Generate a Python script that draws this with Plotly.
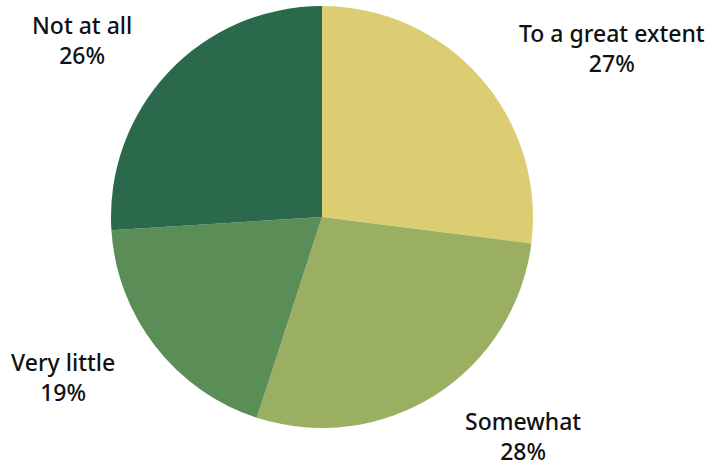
import plotly.graph_objects as go

# Survey responses
categories = ["To a great extent", "Somewhat", "Very little", "Not at all"]
shares = [27, 28, 19, 26]
colors = ["#DCCD73", "#9BAF62", "#5B8D57", "#2B694C"]

# Label anchor positions (paper coordinates) for each category
label_pos = [(0.857, 0.897), (0.733, 0.064), (0.088, 0.191), (0.115, 0.914)]

W, H = 714, 466
cx, cy, r = 322, 217, 211

fig = go.Figure(
    go.Pie(
        labels=categories,
        values=shares,
        marker=dict(colors=colors, line=dict(width=0)),
        sort=False,
        direction="clockwise",
        rotation=0,
        textinfo="none",
        hoverinfo="label+percent",
        showlegend=False,
        domain=dict(
            x=[(cx - r) / W, (cx + r) / W],
            y=[1 - (cy + r) / H, 1 - (cy - r) / H],
        ),
    )
)

for name, val, (x, y) in zip(categories, shares, label_pos):
    fig.add_annotation(
        x=x, y=y, xref="paper", yref="paper",
        text=f"{name}<br>{val}%",
        showarrow=False,
        xanchor="center", yanchor="middle",
        font=dict(family="Noto Sans", size=23, color="#111111", weight=500),
    )

fig.update_layout(
    width=W, height=H,
    margin=dict(l=0, r=0, t=0, b=0),
    paper_bgcolor="white",
    plot_bgcolor="white",
)

fig.write_html("out.html")
